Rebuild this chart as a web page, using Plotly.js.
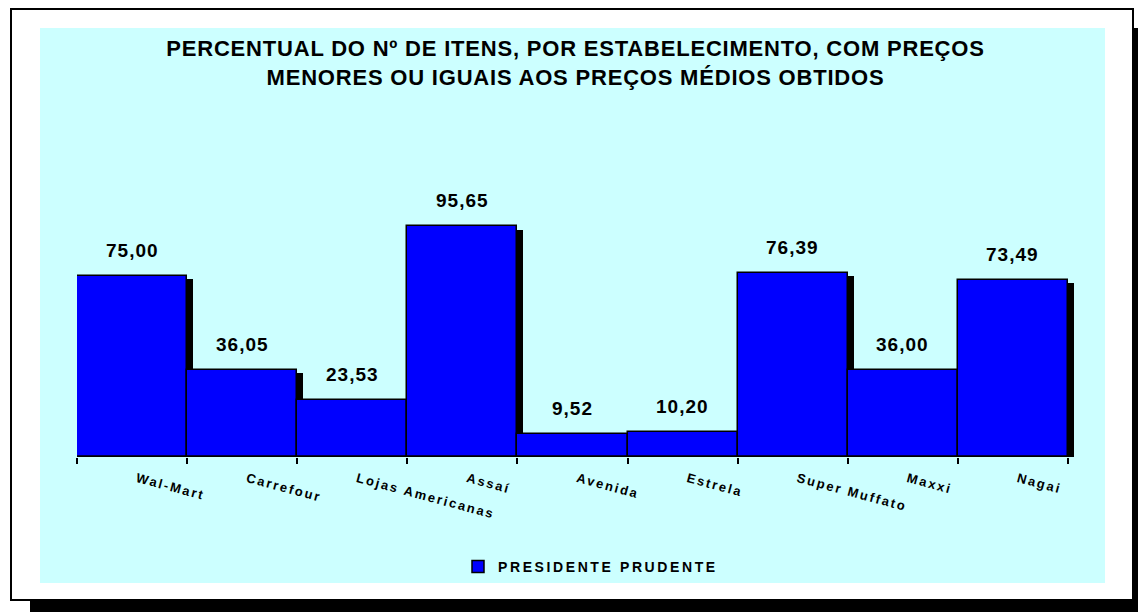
<!DOCTYPE html>
<html>
<head>
<meta charset="utf-8">
<script src="https://cdn.plot.ly/plotly-3.0.1.min.js"></script>
<style>
  html, body { margin: 0; padding: 0; background: #fff; }
  #chart { width: 1138px; height: 614px; }
  .xtick text { letter-spacing: 2px; }
  .legendtext { letter-spacing: 2.6px; }
  .gtitle { letter-spacing: 0.8px; }
  .annotation-text { letter-spacing: 1px; }
</style>
</head>
<body>
<div id="chart"></div>
<script>
// ---- data ----
const categories = ["Wal-Mart", "Carrefour", "Lojas Americanas", "Assaí", "Avenida", "Estrela", "Super Muffato", "Maxxi", "Nagai"];
const values = [75.00, 36.05, 23.53, 95.65, 9.52, 10.20, 76.39, 36.00, 73.49];
const seriesName = "PRESIDENTE PRUDENTE";
const titleText = "PERCENTUAL DO Nº DE ITENS, POR ESTABELECIMENTO, COM PREÇOS<br>MENORES OU IGUAIS AOS PREÇOS MÉDIOS OBTIDOS";

// ---- layout geometry ----
const W = 1138, H = 614;
const M = { l: 77, r: 64, t: 216, b: 157 };
const plotW = W - M.l - M.r, plotH = H - M.t - M.b;
const px2x = px => (px - M.l) / plotW;
const py2y = py => (H - M.b - py) / plotH;
const FONT = "Liberation Sans, Arial, sans-serif";

const shadowDrop = 1.25;   // value units the shadow sits lower
const shadowShift = 0.055; // category units the shadow sits right

const labels = values.map(v => v.toFixed(2).replace('.', ','));

const shadow = {
  type: 'bar', x: categories, y: values.map(v => v - shadowDrop),
  offset: -0.5 + shadowShift, width: 1,
  marker: { color: '#000000', line: { width: 0 } },
  showlegend: false, hoverinfo: 'skip'
};
const bars = {
  type: 'bar', name: seriesName, x: categories, y: values,
  offset: -0.5, width: 1,
  marker: { color: '#0000FF', line: { color: '#000000', width: 1.5 } },
  hovertemplate: '%{x}: %{y:.2f}<extra></extra>'
};

const annotations = categories.map((c, i) => ({
  x: c, y: values[i], xref: 'x', yref: 'y',
  text: labels[i], showarrow: false, yanchor: 'bottom', yshift: 13,
  font: { family: FONT, size: 19, color: '#000', weight: 'bold' }
}));

const shapes = [
  { type: 'rect', xref: 'paper', yref: 'paper', layer: 'below',
    x0: px2x(30), x1: px2x(1140), y0: py2y(28), y1: py2y(612),
    fillcolor: '#000', line: { width: 0 } },
  { type: 'rect', xref: 'paper', yref: 'paper', layer: 'below',
    x0: px2x(11), x1: px2x(1133), y0: py2y(9), y1: py2y(600),
    fillcolor: '#fff', line: { color: '#000', width: 2 } },
  { type: 'rect', xref: 'paper', yref: 'paper', layer: 'below',
    x0: px2x(40), x1: px2x(1105), y0: py2y(28), y1: py2y(583),
    fillcolor: '#CCFFFF', line: { width: 0 } },
  { type: 'line', xref: 'x', yref: 'y', layer: 'above',
    x0: -0.5, x1: categories.length - 0.5 + shadowShift, y0: 0, y1: 0,
    line: { color: '#000', width: 3 } }
];

const layout = {
  width: W, height: H, margin: M,
  paper_bgcolor: '#ffffff', plot_bgcolor: 'rgba(0,0,0,0)',
  barmode: 'overlay', bargap: 0,
  title: { text: titleText, x: 0.5, xref: 'paper', xanchor: 'center',
           y: 1 - 56 / H, yref: 'container', yanchor: 'top',
           font: { family: FONT, size: 22, color: '#000', weight: 'bold' } },
  xaxis: { type: 'category', range: [-0.5, categories.length - 0.5 + shadowShift],
           tickangle: 15, tickson: 'boundaries', ticks: 'outside', ticklen: 6,
           tickwidth: 2, tickcolor: '#000', showgrid: false, zeroline: false,
           showline: false, fixedrange: true,
           ticklabelstandoff: 11, ticklabelshift: 5,
           tickfont: { family: FONT, size: 13, color: '#000', weight: 'bold' } },
  yaxis: { range: [0, 100], visible: false, fixedrange: true },
  showlegend: true,
  legend: { orientation: 'h', x: px2x(458), xanchor: 'left', y: py2y(551), yanchor: 'top',
            bgcolor: 'rgba(0,0,0,0)', borderwidth: 0,
            font: { family: FONT, size: 14, color: '#000', weight: 'bold' } },
  annotations: annotations,
  shapes: shapes
};

Plotly.newPlot('chart', [shadow, bars], layout, { displayModeBar: false, staticPlot: false });
</script>
</body>
</html>
